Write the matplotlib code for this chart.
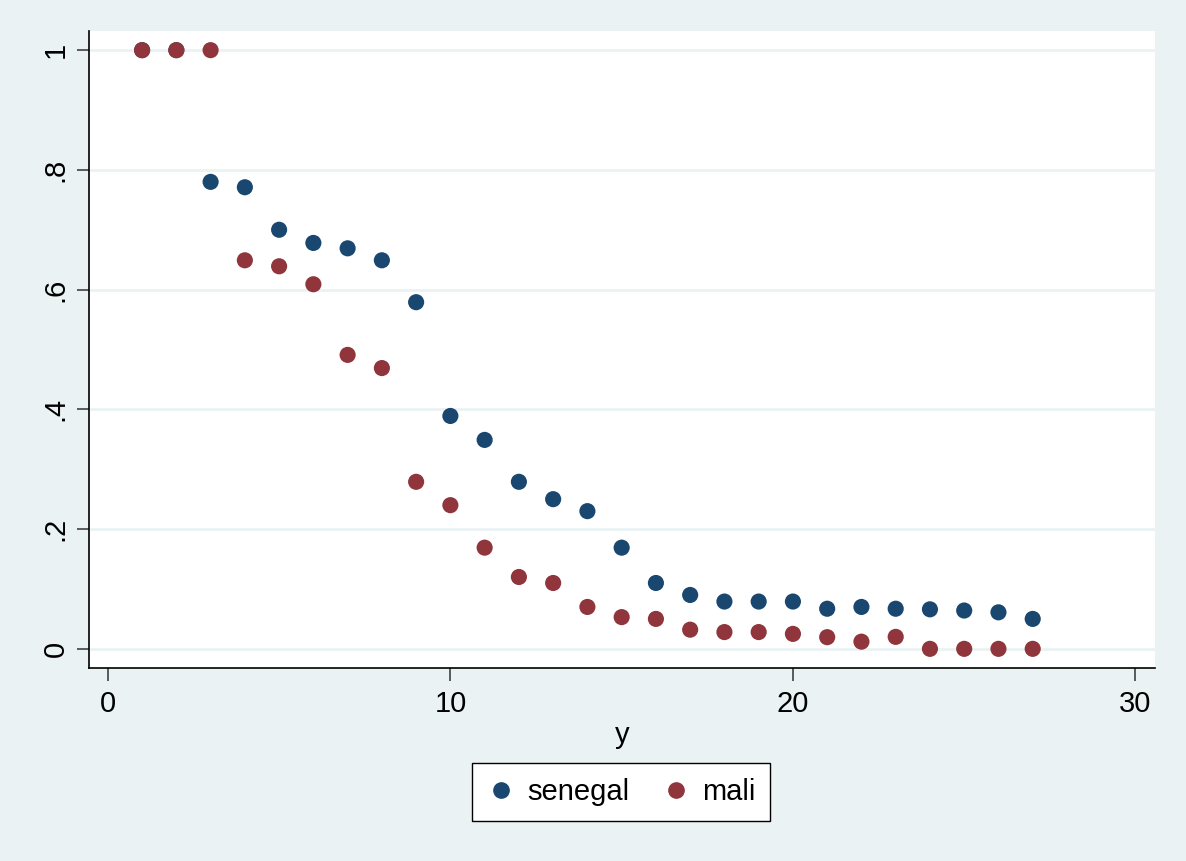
import matplotlib.pyplot as plt
from matplotlib.lines import Line2D

# data
y = list(range(1, 28))
senegal = [1.0, 1.0, 0.78, 0.771, 0.70, 0.678, 0.669, 0.649, 0.579, 0.389,
           0.349, 0.279, 0.25, 0.23, 0.169, 0.11, 0.09, 0.079, 0.079, 0.079,
           0.067, 0.070, 0.067, 0.066, 0.064, 0.061, 0.050]
mali = [1.0, 1.0, 1.0, 0.649, 0.639, 0.609, 0.491, 0.469, 0.279, 0.240,
        0.169, 0.120, 0.110, 0.070, 0.053, 0.050, 0.032, 0.028, 0.028, 0.025,
        0.0195, 0.012, 0.020, 0.0, 0.0, 0.0, 0.0]
series_names = ['senegal', 'mali']
series_colors = ['#1a476f', '#90353b']
yticks = [0, 0.2, 0.4, 0.6, 0.8, 1.0]
ytick_labels = ['0', '.2', '.4', '.6', '.8', '1']
xticks = [0, 10, 20, 30]

bg = '#eaf2f3'
plt.rcParams['font.family'] = ['Liberation Sans', 'DejaVu Sans']

fig = plt.figure(figsize=(11.86, 8.61), dpi=100, facecolor=bg)
# axes box in pixels: left 89, right 1155, top 31, bottom 668
ax = fig.add_axes([89 / 1186, 1 - 668 / 861, (1155 - 89) / 1186, (668 - 31) / 861])
ax.set_facecolor('white')

for vals, name, col in zip([senegal, mali], series_names, series_colors):
    ax.scatter(y, vals, s=135, color=col, edgecolors='none', label=name, zorder=3)

ax.set_xlim(-0.55, 30.57)
ax.set_ylim(-0.032, 1.032)
ax.set_xticks(xticks)
ax.set_yticks(yticks)
ax.set_yticklabels(ytick_labels, rotation=90, va='center')
ax.tick_params(axis='both', direction='out', length=9, width=1.1, color='#333333',
               labelsize=21)
ax.tick_params(axis='x', pad=7)
ax.tick_params(axis='y', pad=5)
ax.grid(axis='y', color=bg, linewidth=2)
ax.set_axisbelow(True)

for side in ['top', 'right']:
    ax.spines[side].set_visible(False)
for side in ['left', 'bottom']:
    ax.spines[side].set_linewidth(1.2)
    ax.spines[side].set_color('black')

ax.set_xlabel('y', fontsize=21, labelpad=2)

handles = [Line2D([0], [0], linestyle='none', marker='o', markersize=11,
                  color=c) for c in series_colors]
fig.legend(handles, series_names, loc='center', ncol=2,
           bbox_to_anchor=(621 / 1186, 1 - 792 / 861), fontsize=21,
           frameon=True, fancybox=False, edgecolor='black', framealpha=1,
           handletextpad=0.4, columnspacing=1.1, borderpad=0.5,
           borderaxespad=0, handlelength=1.0)

fig.savefig('out.png', dpi=100, facecolor=bg)
